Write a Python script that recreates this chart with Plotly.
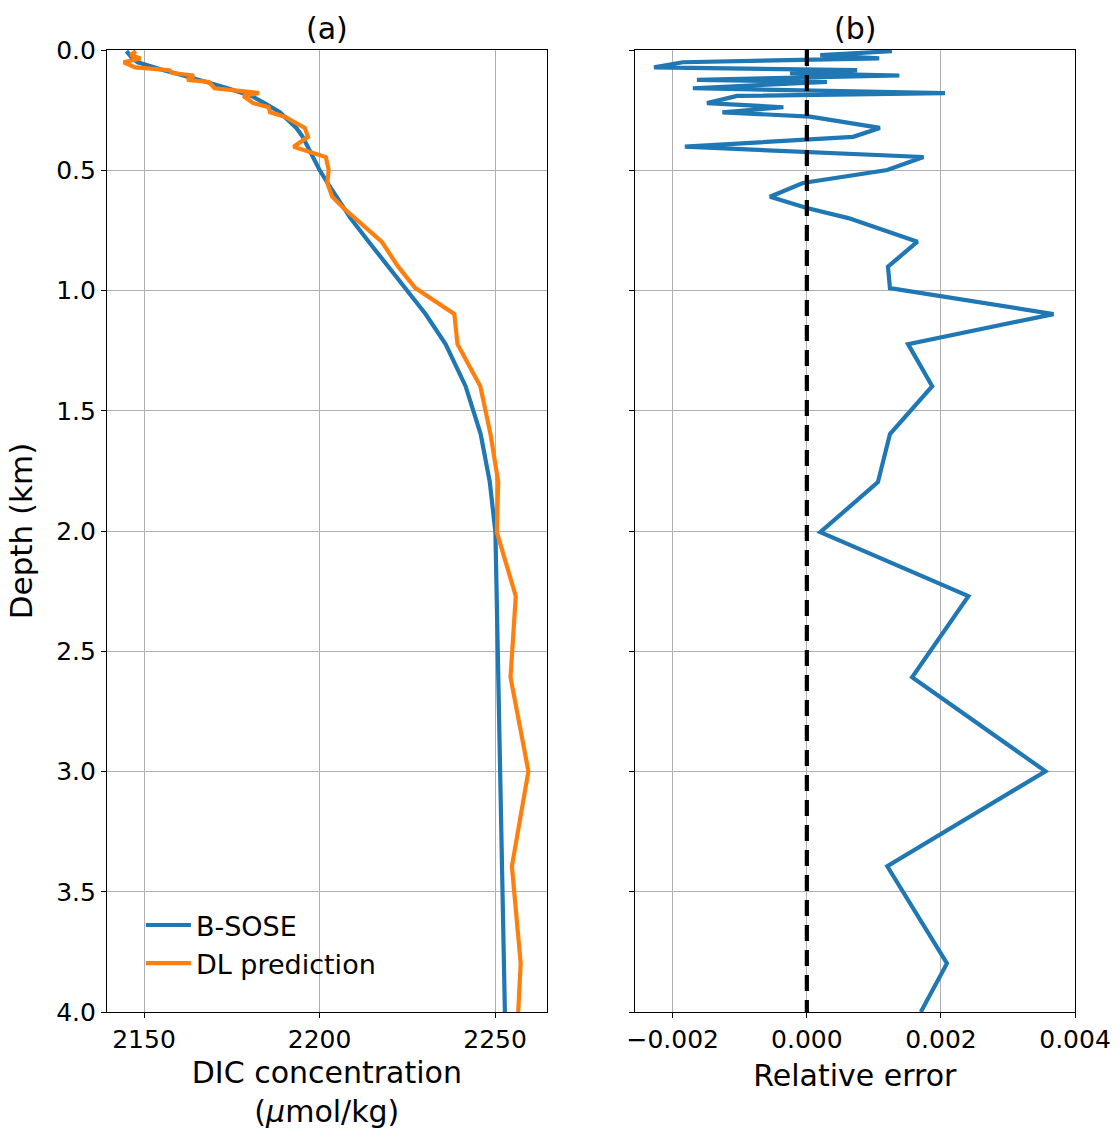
import plotly.graph_objects as go
from plotly.subplots import make_subplots

# Depth levels (km)
depth_km = [0.005, 0.021, 0.035, 0.051, 0.072, 0.084, 0.096, 0.106, 0.124, 0.133,
            0.159, 0.179, 0.191, 0.221, 0.238, 0.259, 0.277, 0.324, 0.361, 0.402,
            0.445, 0.499, 0.553, 0.610, 0.657, 0.699, 0.797, 0.901, 0.990, 1.098,
            1.223, 1.398, 1.597, 1.797, 2.005, 2.271, 2.608, 2.999, 3.394, 3.798, 4.0]

# B-SOSE DIC (umol/kg)
bsose_dic = [2145.0, 2145.8, 2146.7, 2148.2, 2152.4, 2155.6, 2158.6, 2161.2, 2165.8, 2167.8,
             2173.8, 2178.3, 2180.6, 2184.3, 2186.3, 2188.7, 2190.0, 2193.4, 2195.2, 2196.6,
             2198.0, 2200.0, 2202.3, 2204.8, 2206.8, 2208.8, 2214.0, 2219.7, 2224.5, 2230.2,
             2235.9, 2241.6, 2245.9, 2248.5, 2250.1, 2250.5, 2250.9, 2251.5, 2252.1, 2252.6, 2252.8]

# DL prediction DIC (umol/kg)
dl_dic = [2147.7, 2146.2, 2149.0, 2144.2, 2147.5, 2157.2, 2158.1, 2164.2, 2162.3, 2168.5,
          2170.1, 2182.8, 2178.3, 2181.1, 2185.5, 2185.9, 2190.1, 2195.8, 2196.7, 2192.6,
          2201.8, 2202.6, 2202.2, 2203.6, 2206.8, 2210.2, 2217.7, 2222.4, 2227.3, 2238.4,
          2239.3, 2245.8, 2248.7, 2250.9, 2250.5, 2255.9, 2254.4, 2259.5, 2254.8, 2257.3, 2256.6]

# Relative error
rel_error = [0.00127, 0.0002, 0.00108, -0.00185, -0.00228, 0.00075, -0.00025, 0.00138, -0.00164, 0.0003,
             -0.0017, 0.00206, -0.00104, -0.00149, -0.00035, -0.00126, 0.00005, 0.00109, 0.00069, -0.00182,
             0.00174, 0.0012, -0.00006, -0.00055, 0.0, 0.00062, 0.00165, 0.00121, 0.00124, 0.00368,
             0.00151, 0.00187, 0.00124, 0.00106, 0.0002, 0.00241, 0.00157, 0.00356, 0.0012, 0.00209, 0.0017]

zero_line_x = [0.0, 0.0]
zero_line_y = [0.0, 4.0]

depth_ticks = [0, 0.5, 1.0, 1.5, 2.0, 2.5, 3.0, 3.5, 4.0]
dic_ticks = [2150, 2200, 2250]
err_ticks = [-0.002, 0.0, 0.002, 0.004]

BLUE = "#1f77b4"
ORANGE = "#ff7f0e"
FONT = "DejaVu Sans"

fig = make_subplots(rows=1, cols=2, shared_yaxes=True, horizontal_spacing=0.091)

fig.add_trace(go.Scatter(x=bsose_dic, y=depth_km, mode="lines", name="B-SOSE",
                         line=dict(color=BLUE, width=4.2)), row=1, col=1)
fig.add_trace(go.Scatter(x=dl_dic, y=depth_km, mode="lines", name="DL prediction",
                         line=dict(color=ORANGE, width=4.2)), row=1, col=1)
fig.add_trace(go.Scatter(x=rel_error, y=depth_km, mode="lines", showlegend=False,
                         line=dict(color=BLUE, width=4.2)), row=1, col=2)
fig.add_trace(go.Scatter(x=zero_line_x, y=zero_line_y, mode="lines", showlegend=False,
                         line=dict(color="black", width=4.2, dash="16px,9px")), row=1, col=2)

axis_common = dict(showline=True, linecolor="black", linewidth=1.2, mirror=True,
                   ticks="outside", ticklen=5, tickwidth=1.2, tickcolor="black",
                   showgrid=True, gridcolor="#b0b0b0", gridwidth=1, zeroline=False,
                   automargin=False,
                   tickfont=dict(family=FONT, size=25, color="black"))

fig.update_xaxes(**axis_common)
fig.update_yaxes(**axis_common)

fig.update_xaxes(row=1, col=1, range=[2139.45, 2264.7], tickvals=dic_ticks,
                 domain=[0, 0.4542],
                 title=dict(text="DIC concentration<br>(<i>μ</i>mol/kg)",
                            font=dict(family=FONT, size=30, color="black"), standoff=11))
fig.update_xaxes(row=1, col=2, range=[-0.002567, 0.004], tickvals=err_ticks,
                 tickformat=".3f", domain=[0.5452, 1],
                 title=dict(text="Relative error",
                            font=dict(family=FONT, size=30, color="black"), standoff=11))
fig.update_yaxes(row=1, col=1, range=[4.0, 0.0], tickvals=depth_ticks,
                 tickformat=".1f",
                 title=dict(text="Depth (km)", font=dict(family=FONT, size=31, color="black"),
                            standoff=14))
fig.update_yaxes(row=1, col=2, range=[4.0, 0.0], tickvals=depth_ticks,
                 showticklabels=False)

fig.add_annotation(text="(a)", x=0.2271, y=1.0, xref="paper", yref="paper", xanchor="center",
                   yanchor="bottom", yshift=2, showarrow=False,
                   font=dict(family=FONT, size=30, color="black"))
fig.add_annotation(text="(b)", x=0.7726, y=1.0, xref="paper", yref="paper", xanchor="center",
                   yanchor="bottom", yshift=2, showarrow=False,
                   font=dict(family=FONT, size=30, color="black"))

fig.update_layout(
    width=1120, height=1129,
    margin=dict(l=107, r=45, t=50, b=117),
    paper_bgcolor="white", plot_bgcolor="white",
    font=dict(family=FONT, size=25, color="black"),
    legend=dict(x=0.035, y=0.025, xanchor="left", yanchor="bottom",
                bgcolor="rgba(255,255,255,0)", borderwidth=0, itemwidth=45,
                font=dict(family=FONT, size=27, color="black")),
)

fig.write_html("out.html")
